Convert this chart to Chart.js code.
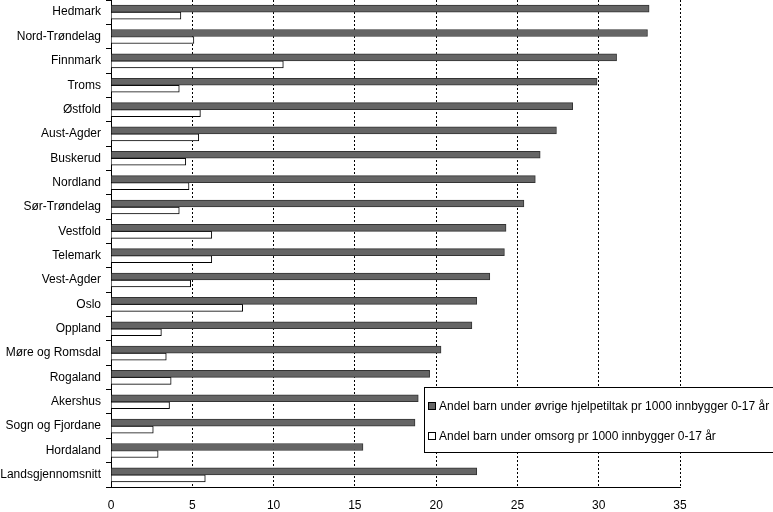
<!DOCTYPE html>
<html>
<head>
<meta charset="utf-8">
<script src="https://cdn.jsdelivr.net/npm/chart.js@4.4.1/dist/chart.umd.min.js"></script>
<style>
  html, body { margin: 0; padding: 0; background: #fff; }
  #wrap { width: 773px; height: 512px; }
</style>
</head>
<body>
<div id="wrap"><canvas id="myChart" width="773" height="512"></canvas></div>
<script>
// fylker, sortert slik som i originalen
const fylker = ['Hedmark', 'Nord-Trøndelag', 'Finnmark', 'Troms', 'Østfold', 'Aust-Agder',
  'Buskerud', 'Nordland', 'Sør-Trøndelag', 'Vestfold', 'Telemark', 'Vest-Agder', 'Oslo',
  'Oppland', 'Møre og Romsdal', 'Rogaland', 'Akershus', 'Sogn og Fjordane', 'Hordaland',
  'Landsgjennomsnitt'];

const ovrigeTiltak = [33.1, 33.0, 31.1, 29.9, 28.4, 27.4, 26.4, 26.1, 25.4, 24.3, 24.2, 23.3,
  22.5, 22.2, 20.3, 19.6, 18.9, 18.7, 15.5, 22.5];

const omsorg = [4.3, 5.1, 10.6, 4.2, 5.5, 5.4, 4.6, 4.8, 4.2, 6.2, 6.2, 4.9,
  8.1, 3.1, 3.4, 3.7, 3.6, 2.6, 2.9, 5.8];

const xTicks = [0, 5, 10, 15, 20, 25, 30, 35];

const labelOvrige = 'Andel barn under øvrige hjelpetiltak pr 1000 innbygger 0-17 år';
const labelOmsorg = 'Andel barn under omsorg pr 1000 innbygger 0-17 år';

const fontFam = '"Liberation Sans", Arial, sans-serif';

// legend boks inne i plottet (nederst til høyre)
const boxLegend = {
  id: 'boxLegend',
  afterDraw(chart) {
    const ctx = chart.ctx;
    const x0 = 424.5, y0 = 387.5, w = 352, h = 65;
    ctx.save();
    ctx.fillStyle = '#fff';
    ctx.fillRect(x0, y0, w, h);
    ctx.strokeStyle = '#000';
    ctx.lineWidth = 1;
    ctx.strokeRect(x0, y0, w, h);
    ctx.font = '12px ' + fontFam;
    ctx.textBaseline = 'middle';
    chart.data.datasets.forEach((ds, i) => {
      const cy = y0 + 19 + i * 30;
      ctx.fillStyle = ds.backgroundColor;
      ctx.fillRect(428.5, cy - 4, 7, 7);
      ctx.strokeStyle = '#000';
      ctx.strokeRect(428.5, cy - 4, 7, 7);
      ctx.fillStyle = '#000';
      ctx.fillText(ds.label, 439, cy);
    });
    ctx.restore();
  }
};

const ctx = document.getElementById('myChart').getContext('2d');
const myChart = new Chart(ctx, {
  type: 'bar',
  data: {
    labels: fylker,
    datasets: [{
      label: labelOvrige,
      data: ovrigeTiltak,
      backgroundColor: '#656565',
      borderColor: '#333',
      borderWidth: 1,
      borderSkipped: 'start',
      barThickness: 7
    }, {
      label: labelOmsorg,
      data: omsorg,
      backgroundColor: '#ffffff',
      borderColor: '#000',
      borderWidth: 1,
      borderSkipped: 'start',
      barThickness: 7
    }]
  },
  options: {
    indexAxis: 'y',
    responsive: false,
    animation: false,
    layout: { padding: { top: 0, right: 93, bottom: 0, left: 0 } },
    plugins: {
      legend: { display: false },
      tooltip: { enabled: false }
    },
    scales: {
      x: {
        min: 0,
        max: 35,
        afterBuildTicks: (scale) => { scale.ticks = xTicks.map(v => ({ value: v })); },
        afterFit: (scale) => { scale.height = 25; scale.paddingLeft = 0; },
        ticks: { color: '#000', font: { family: fontFam, size: 12 }, padding: 11 },
        grid: {
          color: (c) => c.tick && c.tick.value === 0 ? 'rgba(0,0,0,0)' : '#000',
          lineWidth: 1,
          drawTicks: false
        },
        border: { display: true, color: '#000', dash: [2, 2], width: 1 }
      },
      y: {
        afterFit: (scale) => { scale.width = 111; scale.paddingTop = 0; scale.paddingBottom = 0; },
        ticks: { color: '#000', font: { family: fontFam, size: 12 }, padding: 5 },
        grid: {
          offset: true,
          drawOnChartArea: false,
          drawTicks: true,
          tickLength: 5,
          color: '#000'
        },
        border: { display: true, color: '#000', width: 1 }
      }
    }
  },
  plugins: [boxLegend]
});
</script>
</body>
</html>
